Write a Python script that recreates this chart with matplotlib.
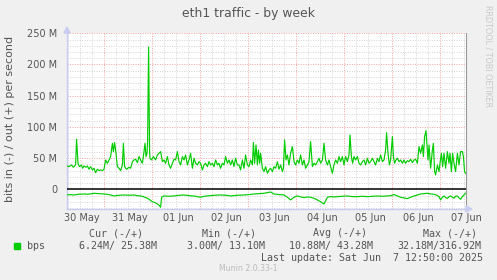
import matplotlib
matplotlib.use("Agg")
import matplotlib.pyplot as plt
from matplotlib.ticker import FixedLocator

# hours since the left edge of the graph, values in Mbit/s
out_hours = [0.0, 1.0, 2.2, 3.2, 4.3, 4.8, 5.5, 6.2, 7.2, 7.8, 8.5, 9.5, 10.2, 11.0, 11.8,
             12.7, 13.5, 14.3, 15.2, 16.0, 16.8, 17.7, 18.5, 19.3, 20.2, 21.0, 21.8, 22.7,
             23.2, 23.8, 24.5, 25.2, 26.0, 26.8, 27.7, 28.2, 28.8, 29.8, 31.0, 31.8, 32.7,
             33.5, 34.3, 35.2, 36.0, 36.8, 37.7, 38.5, 39.0, 39.5, 40.0, 40.3, 40.8, 41.3,
             41.5, 42.2, 43.2, 44.3, 45.2, 46.0, 46.8, 47.7, 48.5, 49.3, 50.2, 51.0, 51.8,
             52.7, 53.5, 54.3, 55.2, 56.0, 56.8, 57.7, 58.5, 59.3, 60.2, 61.0, 61.8, 62.7,
             63.5, 64.3, 65.2, 66.0, 66.8, 67.7, 68.5, 69.3, 70.2, 71.0, 71.8, 72.7, 73.5,
             74.3, 75.2, 76.0, 76.8, 77.7, 78.5, 79.3, 80.2, 81.0, 81.8, 82.7, 83.5, 84.3,
             85.2, 86.0, 86.8, 87.7, 88.5, 89.3, 90.2, 91.0, 91.8, 92.7, 93.2, 93.8, 94.5,
             95.2, 95.7, 96.3, 96.8, 97.7, 98.5, 99.3, 100.2, 101.0, 101.8, 102.7, 103.5,
             104.3, 105.2, 106.0, 106.8, 107.7, 108.2, 108.8, 109.5, 110.2, 111.0, 111.8,
             112.7, 113.5, 114.3, 115.2, 116.0, 116.8, 117.7, 118.5, 119.3, 120.2, 121.0,
             121.8, 122.7, 123.5, 124.3, 125.2, 126.0, 126.8, 127.7, 128.5, 129.3, 130.2,
             131.0, 131.8, 132.7, 133.5, 134.3, 135.2, 136.0, 136.8, 137.7, 138.5, 139.3,
             140.2, 141.0, 141.5, 142.2, 142.8, 143.5, 144.3, 145.2, 146.0, 146.8, 147.7,
             148.5, 149.3, 150.2, 151.0, 151.8, 152.7, 153.5, 154.3, 155.2, 156.0, 156.8,
             157.7, 158.5, 159.3, 159.8, 160.5, 161.2, 161.8, 162.7, 163.2, 163.8, 164.5,
             165.2, 166.0, 166.8, 167.7, 168.5, 169.3, 170.2, 171.0, 171.8, 172.7, 173.5,
             174.3, 175.2, 176.0, 176.8, 177.7, 178.2, 178.8, 179.5, 179.8, 180.5, 181.0,
             181.8, 182.7, 183.2, 183.8, 184.3, 185.2, 186.0, 186.5, 187.2, 187.8, 188.5,
             189.3, 190.2, 191.0, 191.5, 192.2, 192.8, 193.5, 194.3, 195.2, 196.0, 196.8,
             197.7, 198.2, 198.8, 199.3]
out_mbps = [37.4, 36.3, 39.0, 35.3, 39.0, 80.1, 41.7, 36.3, 39.0, 33.7, 37.4, 35.3, 37.4, 32.1, 36.3,
            31.0, 33.7, 26.7, 32.1, 29.9, 31.0, 29.9, 32.1, 47.0, 41.7, 47.0, 52.4, 73.7,
            60.4, 74.8, 57.7, 36.3, 33.7, 29.9, 39.0, 73.7, 36.3, 32.1, 35.3, 33.7, 44.3,
            47.0, 48.1, 42.7, 52.4, 47.0, 41.7, 60.4, 73.7, 52.4, 57.7, 76.0, 228.0, 60.0,
            49.7, 47.0, 52.4, 47.0, 55.0, 57.7, 60.4, 44.3, 47.0, 41.7, 52.4, 39.0, 33.7,
            41.7, 48.1, 47.0, 60.4, 44.3, 39.0, 52.4, 47.0, 55.0, 39.0, 47.0, 57.7, 33.7,
            49.7, 41.7, 39.0, 44.3, 41.7, 31.0, 39.0, 41.7, 36.3, 44.3, 39.0, 41.7, 36.3,
            47.0, 39.0, 41.7, 33.7, 41.7, 39.0, 52.4, 41.7, 47.0, 39.0, 47.0, 36.3, 49.7,
            39.0, 39.0, 31.0, 47.0, 33.7, 55.0, 39.0, 36.3, 47.0, 39.0, 74.8, 41.7, 71.0,
            39.0, 63.0, 41.7, 57.7, 33.7, 28.3, 36.3, 25.6, 31.0, 33.7, 28.3, 36.3,
            33.7, 44.3, 32.1, 39.0, 28.3, 33.7, 79.1, 47.0, 55.0, 39.0, 57.7,
            68.4, 44.3, 39.0, 47.0, 41.7, 55.0, 39.0, 47.0, 33.7, 39.0, 44.3,
            76.4, 36.3, 41.7, 39.0, 44.3, 49.7, 41.7, 47.0, 73.7, 47.0, 39.0,
            47.0, 36.3, 25.6, 39.0, 47.0, 41.7, 52.4, 44.3, 52.4, 39.0, 52.4,
            44.3, 55.0, 87.1, 52.4, 41.7, 52.4, 47.0, 52.4, 41.7, 39.0, 44.3,
            47.0, 39.0, 49.7, 41.7, 44.3, 49.7, 44.3, 39.0, 49.7, 44.3, 55.0,
            44.3, 47.0, 63.0, 90.8, 57.7, 39.0, 47.0, 84.4, 52.4, 41.7, 47.0,
            49.7, 44.3, 47.0, 41.7, 47.0, 41.7, 45.9, 44.3, 48.1, 42.7, 47.0,
            48.1, 41.7, 68.4, 57.7, 71.0, 52.4, 84.4, 94.0, 79.1, 47.0, 71.0,
            33.7, 63.0, 73.7, 28.3, 23.0, 39.0, 28.3, 41.7, 57.7, 36.3, 57.7,
            33.7, 60.4, 41.7, 57.7, 28.3, 57.7, 41.7, 28.3, 57.7, 39.0, 60.4,
            60.4, 52.4, 28.3, 25.4]

in_hours = [0.0, 1.5, 3.5, 5.5, 8.5, 10.5, 13.5, 16.0, 18.5, 21.0, 23.5, 26.0, 28.5, 31.0,
            33.5, 35.0, 36.8, 38.5, 40.2, 41.5, 42.7, 44.0, 45.2, 46.0, 46.8, 47.3,
            48.5, 51.0, 53.5, 56.0, 58.5, 61.0, 63.5, 65.0, 66.8, 68.5, 70.2, 73.5, 76.8,
            79.5, 81.8, 85.0, 88.5, 91.0, 93.5, 96.0, 98.5, 100.2, 101.8, 103.5, 106.0,
            108.5, 110.2, 111.8, 113.5, 115.2, 117.0, 118.5, 120.2, 121.8, 123.5, 125.2,
            127.0, 128.5, 130.2, 131.8, 133.5, 135.2, 137.7, 140.2, 142.7, 145.2, 147.7,
            150.2, 152.7, 155.2, 157.7, 160.2, 161.8, 163.5, 165.2, 166.8, 168.5, 170.2,
            171.8, 173.5, 175.2, 176.8, 178.5, 180.2, 182.0, 183.5, 185.0, 186.0, 186.8,
            187.7, 188.5, 189.3, 190.2, 191.0, 191.8, 192.7, 193.5, 194.3, 195.2, 196.0,
            196.8, 197.7, 198.5, 199.3]
in_mbps = [9.1, 8.5, 9.1, 8.0, 7.5, 8.0, 6.4, 7.0, 7.5, 8.5, 10.7, 9.6, 9.1, 9.6,
           9.1, 10.2, 10.7, 12.3, 14.4, 17.1, 19.8, 21.4, 23.5, 25.6, 28.8, 12.8,
           10.7, 11.2, 10.7, 9.6, 9.1, 10.2, 10.7, 11.8, 12.8, 11.2, 10.7, 9.6, 9.1,
           9.6, 10.7, 9.6, 9.1, 8.5, 7.5, 7.0, 6.4, 5.3, 4.3, 7.5, 8.5,
           9.1, 12.8, 17.1, 12.8, 10.7, 12.3, 13.4, 12.3, 12.8, 14.4, 17.1,
           20.3, 23.5, 12.8, 11.8, 12.3, 11.8, 11.2, 10.7, 11.8, 11.8, 11.2,
           11.8, 11.2, 10.7, 11.2, 10.7, 10.2, 8.5, 10.7, 12.8, 13.9, 15.0,
           12.8, 10.7, 9.1, 7.5, 7.0, 6.4, 7.5, 8.0, 9.6, 11.8, 17.1,
           12.8, 10.7, 13.4, 14.4, 11.8, 10.7, 12.8, 14.4, 11.2, 10.7, 13.9,
           16.0, 11.8, 9.1, 6.24]

day_labels = ["30 May", "31 May", "01 Jun", "02 Jun", "03 Jun", "04 Jun", "05 Jun", "06 Jun", "07 Jun"]
label_hours = [7.5 + 24 * i for i in range(len(day_labels))]

legend_cols = ["Cur (-/+)", "Min (-/+)", "Avg (-/+)", "Max (-/+)"]
legend_vals = ["6.24M/ 25.38M", "3.00M/ 13.10M", "10.88M/ 43.28M", "32.18M/316.92M"]

W, H = 497, 280


def fx(x):
    return x / W


def fy(y):
    return 1 - y / H


fig = plt.figure(figsize=(W / 100, H / 100), dpi=100, facecolor="#F0F0F0")
ax = fig.add_axes([fx(67), fy(209), (466 - 67) / W, (209 - 33.3) / H])
ax.set_facecolor("white")
ax.set_xlim(0, 199.5)
ax.set_ylim(-31.6, 250)

# grid: minor grey dotted every 6h / 10M, major red dotted at midnight / 50M
dot = (0, (1, 1.5))
for h in range(0, 200, 6):
    xh = h + 0.5
    if (xh - 18.5) % 24 == 0:
        ax.axvline(xh, color="#F4A0A0", lw=0.7, ls=dot, zorder=1)
    else:
        ax.axvline(xh, color="#D4D4D4", lw=0.7, ls=dot, zorder=1)
for v in range(-30, 251, 10):
    if v == 0:
        continue
    if v % 50 == 0:
        ax.axhline(v, color="#F4A0A0", lw=0.7, ls=dot, zorder=1)
    else:
        ax.axhline(v, color="#D4D4D4", lw=0.7, ls=dot, zorder=1)

ax.plot(out_hours, out_mbps, color="#00CC00", lw=0.85, zorder=3)
ax.plot(in_hours, [-v for v in in_mbps], color="#00CC00", lw=0.85, zorder=3)
ax.axhline(0, color="black", lw=1.1, zorder=4)

ax.yaxis.set_major_locator(FixedLocator([0, 50, 100, 150, 200, 250]))
ax.set_yticklabels(["0", "50 M", "100 M", "150 M", "200 M", "250 M"])
ax.set_xticks(label_hours)
ax.set_xticklabels(day_labels)
ax.tick_params(axis="y", length=0, pad=7, labelsize=7, labelcolor="#555555")
ax.tick_params(axis="x", length=0, pad=3, labelsize=7, labelcolor="#555555")

ax.spines["top"].set_visible(False)
ax.spines["right"].set_color("#999999")
ax.spines["right"].set_linewidth(0.8)
ax.spines["left"].set_color("#C8CCF2")
ax.spines["bottom"].set_color("#C8CCF2")
ax.spines["left"].set_linewidth(1.0)
ax.spines["bottom"].set_linewidth(1.0)

# axis arrows
fig.patches.append(plt.Polygon([[fx(64), fy(33)], [fx(70), fy(33)], [fx(67), fy(27)]],
                               closed=True, color="#C8CCF2", transform=fig.transFigure))
fig.patches.append(plt.Polygon([[fx(466), fy(206)], [fx(466), fy(212)], [fx(472), fy(209)]],
                               closed=True, color="#C8CCF2", transform=fig.transFigure))

fig.text(fx(248), fy(14), "eth1 traffic - by week", ha="center", va="center",
         fontsize=8.9, color="#555555")
fig.text(fx(10), fy(119), "bits in (-) / out (+) per second", ha="center", va="center",
         rotation=90, fontsize=8, color="#555555")
fig.text(fx(488), fy(56), "RRDTOOL / TOBI OETIKER", ha="center", va="center",
         rotation=270, fontsize=5.8, color="#C8C8C8")

# legend block
mono = "DejaVu Sans Mono"
head_x = [89.3, 201.7, 312.7, 423.3]
val_x = [78.7, 186.7, 289.3, 397.7]
for name, x in zip(legend_cols, head_x):
    fig.text(fx(x), fy(233), name, ha="left", va="center", family=mono, fontsize=7.2, color="#555555")
for val, x in zip(legend_vals, val_x):
    fig.text(fx(x), fy(245.7), val, ha="left", va="center", family=mono, fontsize=7.2, color="#555555")
fig.patches.append(plt.Rectangle((fx(14), fy(248.5)), 6 / W, 6 / H, color="#00CC00",
                                 transform=fig.transFigure))
fig.text(fx(26.7), fy(245.7), "bps", ha="left", va="center", family=mono, fontsize=7.2, color="#555555")
fig.text(fx(483.3), fy(257.7), "Last update: Sat Jun  7 12:50:00 2025", ha="right", va="center",
         family=mono, fontsize=7.2, color="#555555")
fig.text(fx(248), fy(268.3), "Munin 2.0.33-1", ha="center", va="center", fontsize=5.6, color="#BBBBBB")

fig.savefig("out.png", dpi=100, facecolor=fig.get_facecolor())
